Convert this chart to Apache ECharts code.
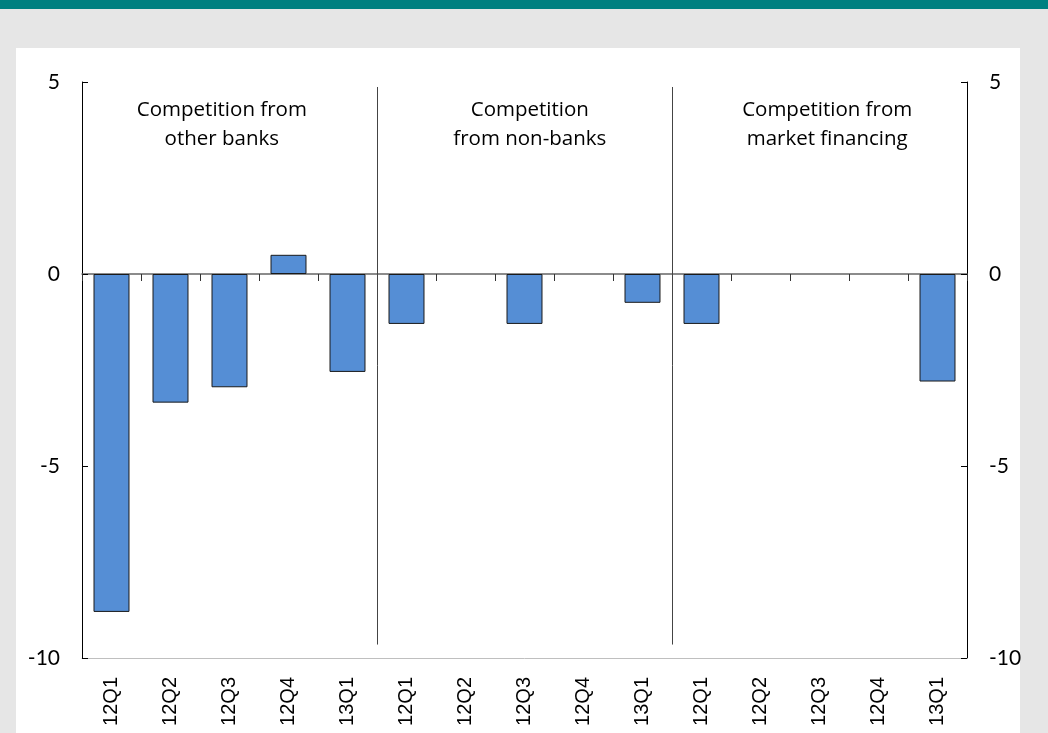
<!DOCTYPE html>
<html><head><meta charset="utf-8">
<script src="https://cdn.jsdelivr.net/npm/echarts@6/dist/echarts.min.js"></script>
<style>
html,body{margin:0;padding:0;background:#e6e6e6;}
#top{position:absolute;left:0;top:0;width:1048px;height:9px;background:#008080;}
#panel{position:absolute;left:16px;top:48px;width:1004px;height:685px;background:#fff;}
#chart{position:absolute;left:0;top:0;width:1048px;height:733px;}
</style></head>
<body>
<div id="top"></div><div id="panel"></div>
<div id="chart"></div>
<script>
const categories = ['12Q1','12Q2','12Q3','12Q4','13Q1','12Q1','12Q2','12Q3','12Q4','13Q1','12Q1','12Q2','12Q3','12Q4','13Q1'];
const values = [-8.8,-3.35,-2.95,0.5,-2.55,-1.3,0,-1.3,0,-0.75,-1.3,0,0,0,-2.8];
const groupLabels = ['Competition from\nother banks','Competition\nfrom non-banks','Competition from\nmarket financing'];
const groupCenters = [1.87,7.09,12.13];
const separators = [4.5,9.5];
const yTicks = {min:-10,max:5,interval:5};

const chart = echarts.init(document.getElementById('chart'), null, {renderer:'canvas'});
const yAxisBase = {
  type:'value', min:yTicks.min, max:yTicks.max, interval:yTicks.interval,
  splitLine:{show:false},
  axisLine:{show:true, onZero:false, lineStyle:{color:'#000',width:1}},
  axisTick:{show:true, inside:true, length:6, lineStyle:{color:'#000'}},
  axisLabel:{color:'#000', fontSize:21, fontFamily:'Lato', margin:22}
};
chart.setOption({
  animation:false,
  grid:{left:82,right:81,top:82,bottom:75,containLabel:false},
  xAxis:[
    {type:'category', data:categories, position:'bottom',
     axisLine:{onZero:false, lineStyle:{color:'#bfbfbf',width:1}},
     axisTick:{show:false},
     axisLabel:{rotate:90, fontSize:20, fontFamily:'Liberation Sans', color:'#000', margin:19, interval:0}},
    {type:'category', data:categories, position:'bottom',
     axisLine:{onZero:true, onZeroAxisIndex:0, lineStyle:{color:'#666',width:1.5}},
     axisTick:{show:true, length:7, lineStyle:{color:'#333'}},
     axisLabel:{show:false}},
    {type:'value', min:-0.5, max:categories.length-0.5, show:false}
  ],
  yAxis:[
    Object.assign({}, yAxisBase, {position:'left'}),
    Object.assign({}, yAxisBase, {position:'right'})
  ],
  series:[
    {type:'bar', xAxisIndex:0, yAxisIndex:0, barCategoryGap:'39%',
     data:values.map(v=>({value:v, itemStyle:{borderWidth: v===0?0:1}})),
     itemStyle:{color:'#558ed5', borderColor:'#1a1a1a', borderWidth:1}},
    {type:'scatter', xAxisIndex:2, yAxisIndex:0, symbolSize:0, itemStyle:{opacity:1},
     data:groupCenters.map((c,i)=>({value:[c,3.9], label:{formatter:groupLabels[i]}})),
     label:{show:true, position:'inside', color:'#000000', opacity:1, fontWeight:500, fontSize:20.5, fontFamily:'Open Sans', lineHeight:29, align:'center', verticalAlign:'middle'},
     markLine:{symbol:'none', silent:true, label:{show:false},
       lineStyle:{color:'#444', width:1, type:'solid'},
       data:separators.map(s=>[{coord:[s,4.87]},{coord:[s,-9.65]}])}}
  ]
});
</script>
</body></html>
